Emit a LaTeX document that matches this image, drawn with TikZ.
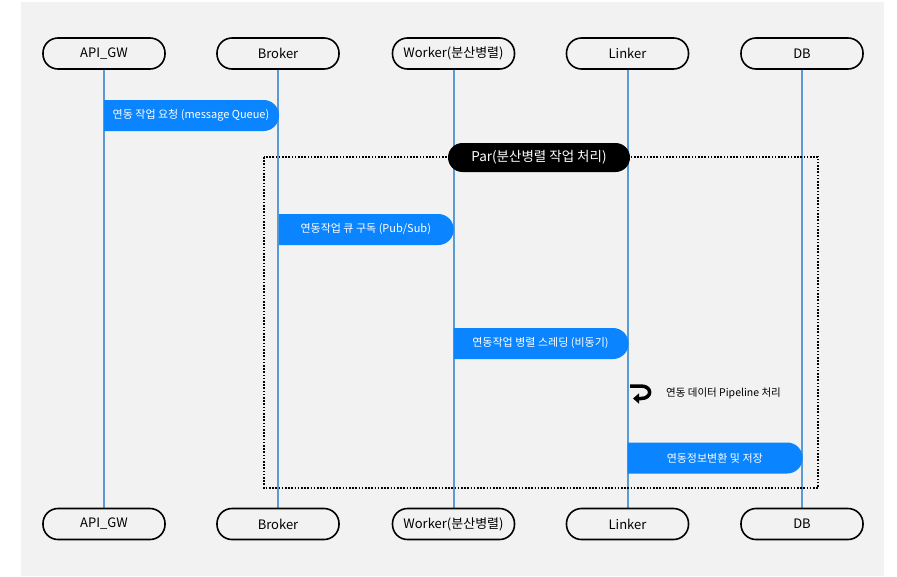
\documentclass[tikz,border=0pt]{standalone}
\usepackage{fontspec}
\setmainfont{Noto Sans CJK KR}
\usetikzlibrary{arrows.meta,shapes.misc}
\definecolor{bg}{HTML}{F2F2F2}
\definecolor{life}{HTML}{5B9BD5}
\definecolor{msg}{HTML}{0A84FF}
\begin{document}
\begin{tikzpicture}[x=1pt,y=-1pt,
  actor/.style={draw=black, line width=1.6pt, fill=bg, rounded corners=15pt,
    minimum width=122pt, minimum height=31pt, inner sep=0pt,
    font=\fontsize{13}{15}\selectfont},
  lifeline/.style={draw=life, line width=2pt},
  msgbox/.style={rounded rectangle, rounded rectangle west arc=none, fill=msg,
    minimum width=175pt, minimum height=31pt, inner sep=0pt, text=white,
    font=\fontsize{11}{13}\selectfont},
  parlabel/.style={rounded rectangle, fill=black, text=white,
    minimum width=182pt, minimum height=29pt, inner sep=0pt,
    font=\fontsize{13.5}{15}\selectfont},
  parframe/.style={draw=black, line width=1.6pt, dash pattern=on 1.6pt off 1.6pt},
  note/.style={font=\fontsize{10.5}{12}\selectfont, inner sep=0pt}]
\useasboundingbox (0,0) rectangle (897,576);
\fill[bg] (21,2) rectangle (884,576);
% lifeline ends
\foreach \x/\n in {104/a,278/b,453.5/c,627.5/d,802/e}{
  \coordinate (\n top) at (\x,69);
  \coordinate (\n bot) at (\x,509);
}
\draw[lifeline] (atop) -- (abot);
\draw[lifeline] (btop) -- (bbot);
\draw[lifeline] (ctop) -- (cbot);
\draw[lifeline] (dtop) -- (dbot);
\draw[lifeline] (etop) -- (ebot);
% actors
\node[actor] (a1) at (104,53.5) {API\_GW};
\node[actor] (b1) at (278,53.5) {Broker};
\node[actor] (c1) at (453.5,53.5) {Worker(분산병렬)};
\node[actor] (d1) at (627.5,53.5) {Linker};
\node[actor] (e1) at (802,53.5) {DB};
\node[actor] (a2) at (104,524) {API\_GW};
\node[actor] (b2) at (278,524) {Broker};
\node[actor] (c2) at (453.5,524) {Worker(분산병렬)};
\node[actor] (d2) at (627.5,524) {Linker};
\node[actor] (e2) at (802,524) {DB};
% par frame
\draw[parframe] (264,157) rectangle (818,488);
\node[parlabel] (par) at (539,157.5) {Par(분산병렬 작업 처리)};
% messages
\node[msgbox] (m1) at (191,115.5) {연동 작업 요청 (message Queue)};
\node[msgbox] (m2) at (365.75,229.5) {연동작업 큐 구독 (Pub/Sub)};
\node[msgbox] (m3) at (540.5,343.5) {연동작업 병렬 스레딩 (비동기)};
\node[msgbox] (m4) at (714.75,458) {연동정보변환 및 저장};
% self loop
\draw[line width=3.5pt, -{Triangle[length=6pt,width=10pt]}]
  (630,386) -- (641,386) .. controls (652.5,386) and (652.5,398.5) .. (641,398.5) -- (633,398.5);
\node[note, anchor=west] (loop) at (666,393) {연동 데이터 Pipeline 처리};
\end{tikzpicture}
\end{document}
